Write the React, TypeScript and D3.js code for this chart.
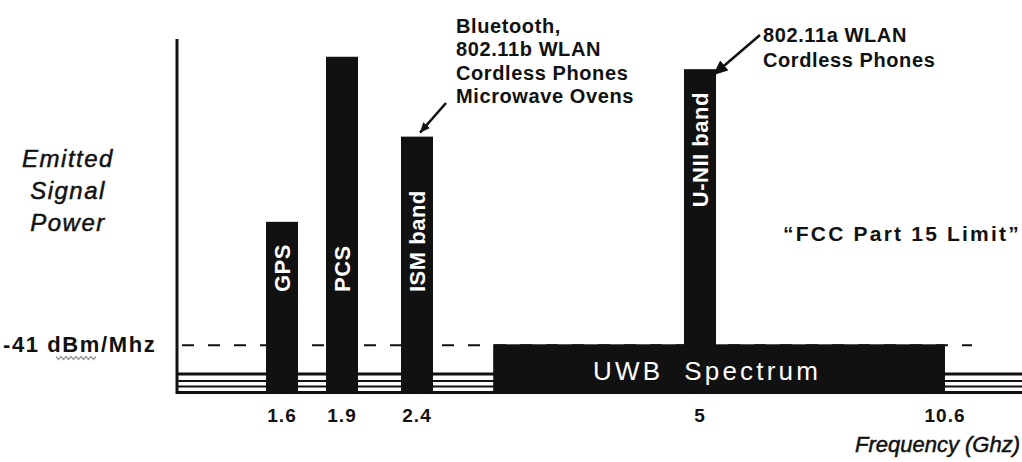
import * as d3 from "d3";
import { useEffect, useRef } from "react";

// licensed bands drawn as tall bars
const bands = ["GPS", "PCS", "ISM band", "U-NII band"];
const bandFreqs = [1.6, 1.9, 2.4, 5];
const bandPower = [48.5, 95, 72.5, 91.5]; // relative emitted power

const tickFreqs = [1.6, 1.9, 2.4, 5, 10.6];
const tickLabels = ["1.6", "1.9", "2.4", "5", "10.6"];

const uwbRange = [3.1, 10.6];
const limitPower = 14; // FCC part 15 level
const limitLabel = "-41 dBm/Mhz";

const yTitle = ["Emitted", "Signal", "Power"];
const xTitle = "Frequency (Ghz)";
const ismNotes = ["Bluetooth,", "802.11b WLAN", "Cordless Phones", "Microwave Ovens"];
const uniiNotes = ["802.11a WLAN", "Cordless Phones"];
const fccNote = "\u201CFCC Part 15 Limit\u201D";

const W = 1022;
const H = 462;
const FONT = "'Liberation Sans', Arial, sans-serif";

function UwbChart() {
  const ref = useRef<SVGSVGElement>(null);

  useEffect(() => {
    const svg = d3.select(ref.current);
    svg.selectAll("*").remove();
    svg.attr("font-family", FONT);

    const x = d3.scaleLinear().domain(tickFreqs).range([282, 342, 417, 700, 945]);
    const y = d3.scaleLinear().domain([0, 100]).range([394, 39]);
    const axisX = 177;
    const barW = 32;
    const ink = "#111";

    const defs = svg.append("defs");
    const marker = (id, len, half) =>
      defs
        .append("marker")
        .attr("id", id)
        .attr("markerUnits", "userSpaceOnUse")
        .attr("viewBox", `0 ${-half} ${len} ${half * 2}`)
        .attr("refX", len)
        .attr("refY", 0)
        .attr("markerWidth", len)
        .attr("markerHeight", half * 2)
        .attr("orient", "auto")
        .append("path")
        .attr("d", `M0,${-half}L${len},0L0,${half}Z`)
        .attr("fill", ink);
    marker("head-s", 10, 4.5);
    marker("head-l", 15, 6.5);

    // limit line
    svg
      .append("line")
      .attr("x1", axisX + 5)
      .attr("x2", 972)
      .attr("y1", y(limitPower) + 1)
      .attr("y2", y(limitPower) + 1)
      .attr("stroke", ink)
      .attr("stroke-width", 2)
      .attr("stroke-dasharray", "12,14");

    // striped baseline
    const stripes = [
      [20, 3],
      [13, 2],
      [7.5, 2],
      [1.5, 3],
    ];
    svg
      .selectAll("line.stripe")
      .data(stripes)
      .join("line")
      .attr("class", "stripe")
      .attr("x1", axisX)
      .attr("x2", W)
      .attr("y1", (d) => y(0) - d[0])
      .attr("y2", (d) => y(0) - d[0])
      .attr("stroke", ink)
      .attr("stroke-width", (d) => d[1]);

    // band bars
    const I = d3.range(bands.length);
    svg
      .selectAll("rect.band")
      .data(I)
      .join("rect")
      .attr("class", "band")
      .attr("x", (i) => x(bandFreqs[i]) - barW / 2)
      .attr("y", (i) => y(bandPower[i]))
      .attr("width", barW)
      .attr("height", (i) => y(0) - y(bandPower[i]))
      .attr("fill", ink);

    // UWB block
    svg
      .append("rect")
      .attr("x", x(uwbRange[0]))
      .attr("y", y(limitPower))
      .attr("width", x(uwbRange[1]) - x(uwbRange[0]))
      .attr("height", y(0) - y(limitPower))
      .attr("fill", ink);

    svg
      .append("text")
      .attr("x", (x(uwbRange[0]) + x(uwbRange[1])) / 2 - 12)
      .attr("y", 380)
      .attr("text-anchor", "middle")
      .attr("fill", "#fff")
      .attr("font-size", 26)
      .attr("letter-spacing", 3.2)
      .attr("xml:space", "preserve")
      .text("UWB  Spectrum");

    // y axis
    svg
      .append("line")
      .attr("x1", axisX)
      .attr("x2", axisX)
      .attr("y1", y(100))
      .attr("y2", y(0))
      .attr("stroke", ink)
      .attr("stroke-width", 3);

    // bar labels (rotated)
    svg
      .selectAll("text.band")
      .data(I)
      .join("text")
      .attr("class", "band")
      .attr("transform", (i) => {
        const inUwb = bandFreqs[i] >= uwbRange[0];
        const start = inUwb ? y(bandPower[i]) + 138 : 292;
        return `translate(${x(bandFreqs[i]) + 8},${start}) rotate(-90)`;
      })
      .attr("fill", "#fff")
      .attr("font-weight", "bold")
      .attr("font-size", 22)
      .attr("letter-spacing", 0.5)
      .text((i) => bands[i]);

    // x ticks
    svg
      .selectAll("text.tick")
      .data(tickFreqs)
      .join("text")
      .attr("class", "tick")
      .attr("x", (d) => x(d))
      .attr("y", 422)
      .attr("text-anchor", "middle")
      .attr("font-weight", "bold")
      .attr("font-size", 19)
      .attr("letter-spacing", 1)
      .attr("fill", ink)
      .text((d, i) => tickLabels[i]);

    svg
      .append("text")
      .attr("x", 1020)
      .attr("y", 452)
      .attr("text-anchor", "end")
      .attr("font-style", "italic")
      .attr("font-size", 22)
      .attr("fill", ink)
      .attr("stroke", ink)
      .attr("stroke-width", 0.5)
      .text(xTitle);

    // y title
    svg
      .append("text")
      .attr("font-style", "italic")
      .attr("font-size", 24)
      .attr("letter-spacing", 1.5)
      .attr("text-anchor", "middle")
      .attr("fill", ink)
      .attr("stroke", ink)
      .attr("stroke-width", 0.5)
      .selectAll("tspan")
      .data(yTitle)
      .join("tspan")
      .attr("x", 68)
      .attr("y", (d, i) => 167 + i * 32)
      .text((d) => d);

    // limit label
    svg
      .append("text")
      .attr("x", 3)
      .attr("y", y(limitPower) + 8)
      .attr("font-weight", "bold")
      .attr("font-size", 22)
      .attr("letter-spacing", 1.6)
      .attr("fill", ink)
      .text(limitLabel);

    const squiggle = d3.range(0, 41, 2.5).map((t, k) => [56 + t, 358 + (k % 2 ? 1.5 : -1.5)]);
    svg
      .append("path")
      .attr("d", d3.line()(squiggle))
      .attr("fill", "none")
      .attr("stroke", "#999")
      .attr("stroke-width", 1.2);

    // annotations
    const notes = (lines, x0, y0, dy) =>
      svg
        .append("text")
        .attr("font-weight", "bold")
        .attr("font-size", 20)
        .attr("letter-spacing", 0.6)
        .attr("fill", ink)
        .selectAll("tspan")
        .data(lines)
        .join("tspan")
        .attr("x", x0)
        .attr("y", (d, i) => y0 + i * dy)
        .text((d) => d);

    const ismX = x(2.4) + 39;
    notes(ismNotes, ismX, 33, 23.3);
    svg
      .append("line")
      .attr("x1", ismX - 10)
      .attr("y1", 103)
      .attr("x2", x(2.4) + 3)
      .attr("y2", y(bandPower[2]) - 4)
      .attr("stroke", ink)
      .attr("stroke-width", 2.5)
      .attr("marker-end", "url(#head-s)");

    const uniiX = x(5) + 63;
    notes(uniiNotes, uniiX, 42, 25);
    svg
      .append("line")
      .attr("x1", uniiX - 3)
      .attr("y1", 35)
      .attr("x2", x(5) + 13)
      .attr("y2", y(bandPower[3]) + 6)
      .attr("stroke", ink)
      .attr("stroke-width", 2.5)
      .attr("marker-end", "url(#head-l)");

    svg
      .append("text")
      .attr("x", 902)
      .attr("y", 241)
      .attr("text-anchor", "middle")
      .attr("font-weight", "bold")
      .attr("font-size", 21)
      .attr("letter-spacing", 2.2)
      .attr("fill", ink)
      .text(fccNote);
  }, []);

  return (
    <svg
      ref={ref}
      width={W}
      height={H}
      style={{ position: "absolute", left: 0, top: 0, background: "#fff" }}
    ></svg>
  );
}

export default function App() {
  return <UwbChart />;
}
